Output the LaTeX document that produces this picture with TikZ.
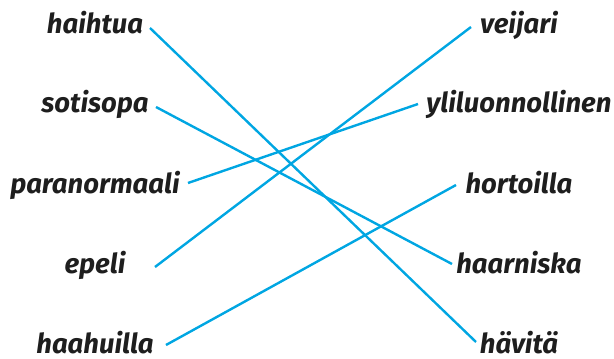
\documentclass[tikz,border=0pt]{standalone}
\usepackage{fontspec}
\setmainfont{Fira Sans}
\definecolor{linkblue}{HTML}{00A6E2}
\definecolor{wordink}{HTML}{1E1E1E}
\begin{document}
\begin{tikzpicture}[x=1pt,y=-1pt,
  word/.style={anchor=base,inner sep=0pt,text=wordink,font=\fontsize{27.5}{30}\selectfont\bfseries\itshape},
  link/.style={draw=linkblue,line width=2.4pt}]
\useasboundingbox (0,0) rectangle (614,359);
% left words
\node[word] (haihtua) at (95,33) {haihtua};
\node[word] (sotisopa) at (95,112) {sotisopa};
\node[word] (paranormaali) at (95,193) {paranormaali};
\node[word] (epeli) at (95,273) {epeli};
\node[word] (haahuilla) at (95,353) {haahuilla};
% right words
\node[word] (veijari) at (519,33) {veijari};
\node[word] (yliluonnollinen) at (519,112) {yliluonnollinen};
\node[word] (hortoilla) at (519,193) {hortoilla};
\node[word] (haarniska) at (519,273) {haarniska};
\node[word] (havita) at (519,353) {hävitä};
% line ends
\coordinate (a1) at (150,28);  \coordinate (b5) at (476,342);
\coordinate (a2) at (156,107); \coordinate (b4) at (452,264);
\coordinate (a3) at (188,183); \coordinate (b2) at (418,104);
\coordinate (a4) at (155,267); \coordinate (b1) at (471,27);
\coordinate (a5) at (166,345); \coordinate (b3) at (456,185);
\draw[link] (a1) -- (b5);
\draw[link] (a2) -- (b4);
\draw[link] (a3) -- (b2);
\draw[link] (a4) -- (b1);
\draw[link] (a5) -- (b3);
\end{tikzpicture}
\end{document}
